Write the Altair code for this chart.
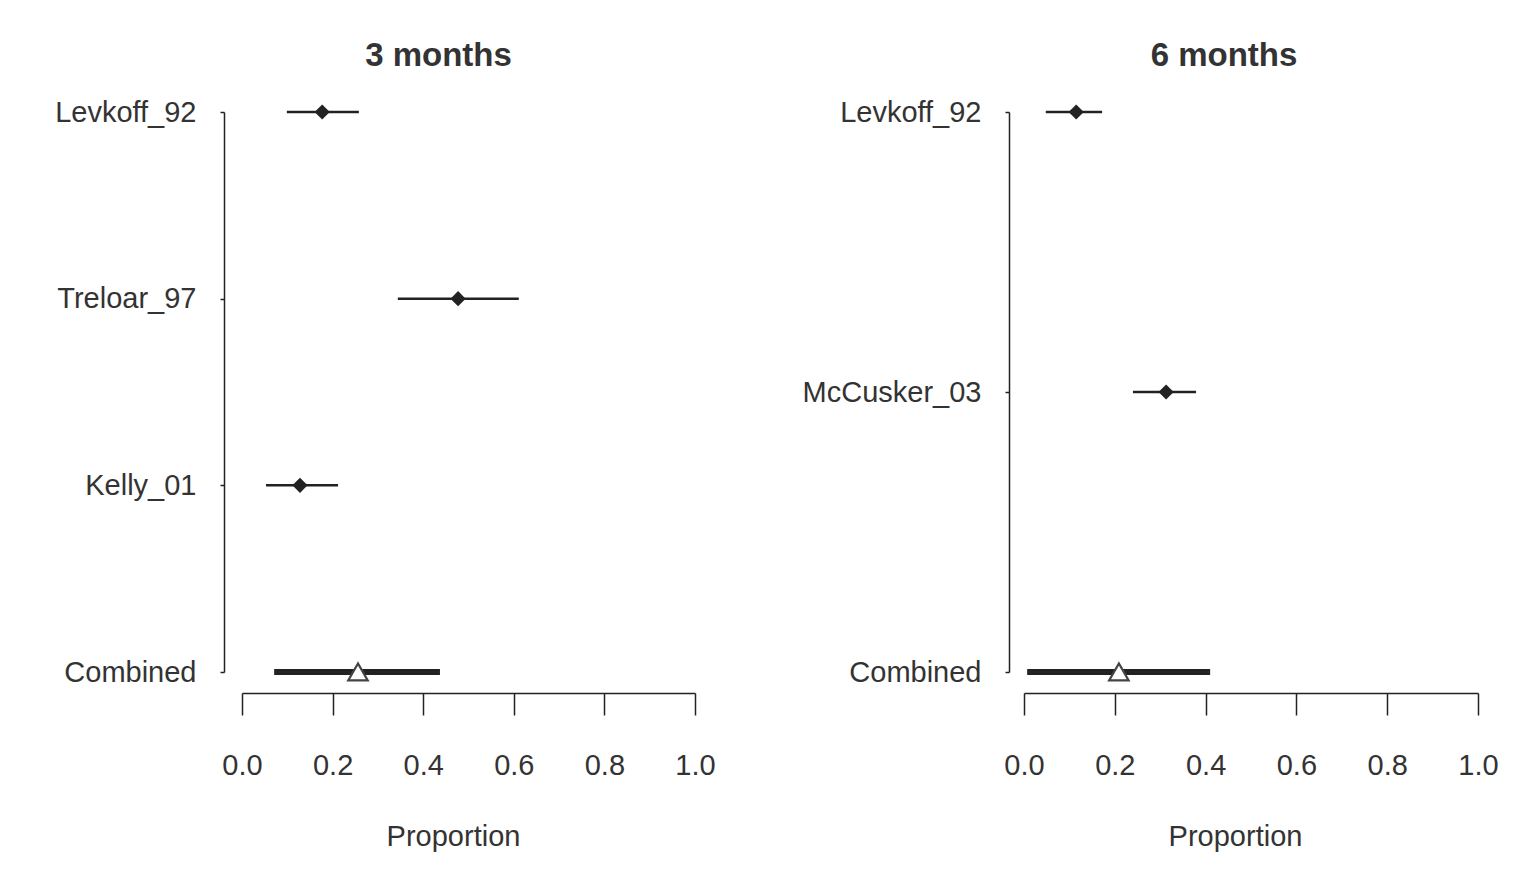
import altair as alt
import pandas as pd

# ---- data ----
studies_3 = ["Levkoff_92", "Treloar_97", "Kelly_01", "Combined"]
est_3 = [0.177, 0.477, 0.128, 0.256]
lo_3 = [0.099, 0.344, 0.053, 0.071]
hi_3 = [0.258, 0.611, 0.212, 0.437]

studies_6 = ["Levkoff_92", "McCusker_03", "Combined"]
est_6 = [0.115, 0.313, 0.209]
lo_6 = [0.048, 0.240, 0.007]
hi_6 = [0.172, 0.379, 0.410]

tick_values = [0.0, 0.2, 0.4, 0.6, 0.8, 1.0]

FONT = "Liberation Sans"
INK = "#222222"
TXT = "#333333"
FS = 29


def panel(title, studies, est, lo, hi, width, yoffset, title_dx):
    df = pd.DataFrame({"study": studies, "est": est, "lo": lo, "hi": hi})
    df["kind"] = ["study"] * (len(df) - 1) + ["combined"]

    xaxis = alt.Axis(
        title="Proportion", values=tick_values, format=".1f", offset=21,
        tickSize=22, labelPadding=36, titlePadding=42, grid=False,
        labelFlush=False, labelOverlap=False, titleX=211,
        labelFont=FONT, labelFontSize=FS, labelColor=TXT,
        titleFont=FONT, titleFontSize=FS, titleColor=TXT, titleFontWeight="normal",
        domainColor=INK, tickColor=INK, domainWidth=1.5, tickWidth=1.5,
    )
    xscale = alt.Scale(domain=[0, 1], nice=False, zero=False)
    yenc = alt.Y(
        "study:N", sort=studies,
        scale=alt.Scale(type="point", padding=0),
        axis=alt.Axis(
            title=None, offset=yoffset, tickSize=4, labelPadding=24, grid=False,
            labelLimit=400,
            labelFont=FONT, labelFontSize=FS, labelColor=TXT,
            domainColor=INK, tickColor=INK, domainWidth=1.5, tickWidth=1.5,
        ),
    )
    base = alt.Chart(df)
    ci = base.transform_filter(alt.datum.kind == "study").mark_rule(
        color=INK, strokeWidth=2.5
    ).encode(x=alt.X("lo:Q", scale=xscale, axis=xaxis), x2="hi:Q", y=yenc)
    ci_c = base.transform_filter(alt.datum.kind == "combined").mark_rule(
        color=INK, strokeWidth=6
    ).encode(x=alt.X("lo:Q", scale=xscale, axis=xaxis), x2="hi:Q", y=yenc)
    pts = base.transform_filter(alt.datum.kind == "study").mark_point(
        shape="diamond", filled=True, color=INK, size=230, opacity=1
    ).encode(x=alt.X("est:Q", scale=xscale, axis=xaxis), y=yenc)
    tri = base.transform_filter(alt.datum.kind == "combined").mark_point(
        shape="triangle-up", filled=True, fill="white", stroke="#444444",
        strokeWidth=2.2, size=380, opacity=1
    ).encode(x=alt.X("est:Q", scale=xscale, axis=xaxis), y=yenc)

    return alt.layer(ci, ci_c, pts, tri).properties(
        width=width, height=560,
        title=alt.TitleParams(
            title, font=FONT, fontSize=33, fontWeight="bold", color=TXT,
            anchor="middle", offset=25, dx=title_dx,
        ),
    )


left = panel("3 months", studies_3, est_3, lo_3, hi_3, 453, 18, -30)
right = panel("6 months", studies_6, est_6, lo_6, hi_6, 454, 15, -27)

chart = alt.hconcat(left, right, spacing=329, bounds="flush").properties(
    padding={"left": 46, "top": 32, "right": 5, "bottom": 5},
    background="white",
).configure_view(stroke=None)

chart.save("out.html", embed_options={"renderer": "svg", "actions": False})
